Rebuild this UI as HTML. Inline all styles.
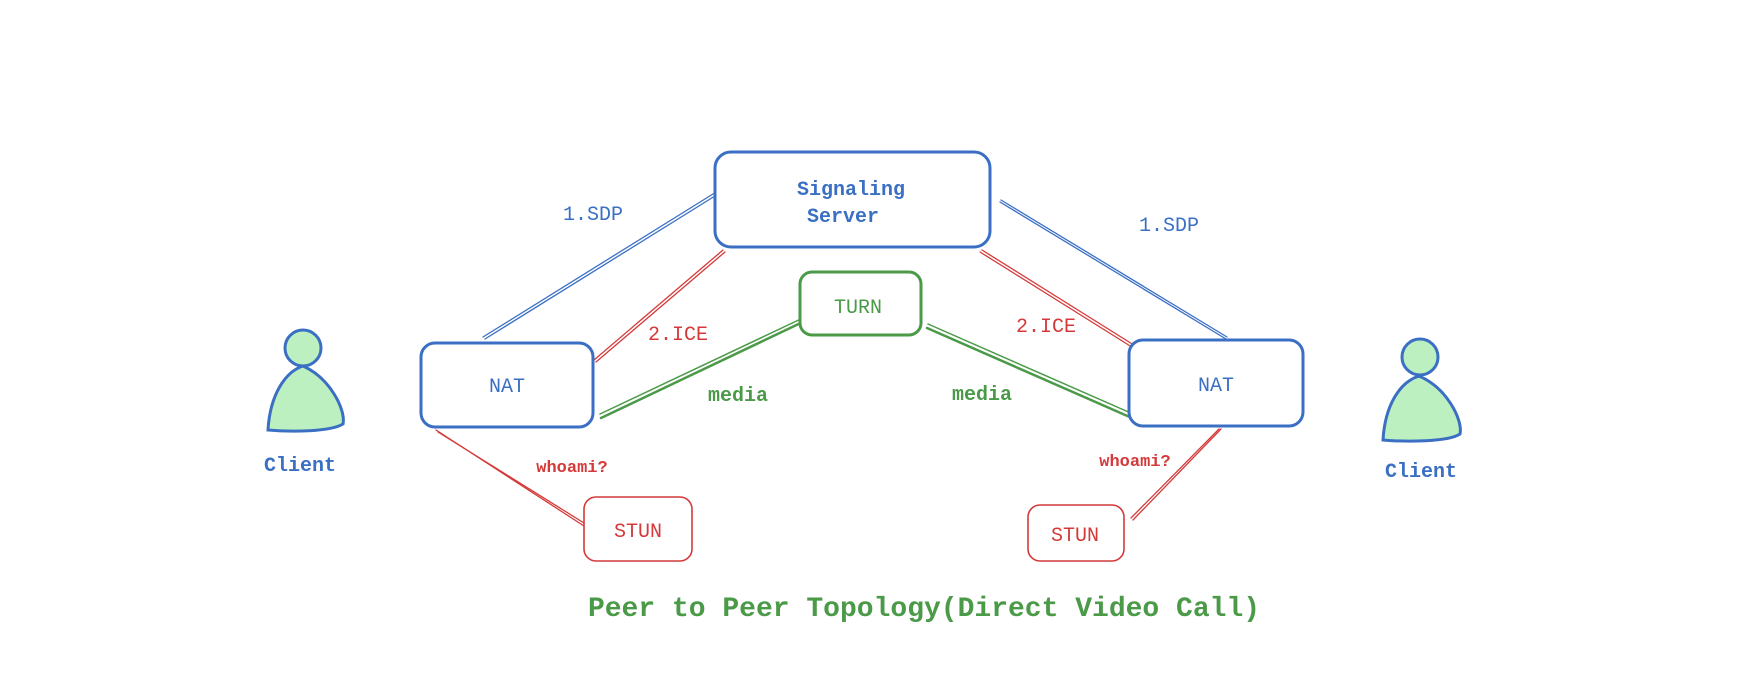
<!DOCTYPE html>
<html><head><meta charset="utf-8"><style>
html,body{margin:0;padding:0;background:#fff;}
svg text{font-family:"Liberation Mono","DejaVu Sans Mono",monospace;}
</style></head><body>
<svg width="1762" height="690" viewBox="0 0 1762 690" xmlns="http://www.w3.org/2000/svg">
<rect width="1762" height="690" fill="#fff"/>
<g fill="none" stroke-linecap="round">
<!-- SDP lines -->
<g stroke="#3a6fc4" stroke-width="1.3">
<line x1="483" y1="337" x2="721" y2="189"/><line x1="485" y1="339" x2="723" y2="191"/>
<line x1="1001" y1="200" x2="1227" y2="337"/><line x1="1000" y1="202" x2="1226" y2="339"/>
</g>
<!-- ICE / whoami -->
<g stroke="#d43a3a" stroke-width="1.3">
<line x1="596" y1="362" x2="725" y2="252"/><line x1="594" y1="360" x2="723" y2="250"/>
<line x1="980" y1="252" x2="1135" y2="349"/><line x1="982" y1="250" x2="1137" y2="347"/>
<line x1="436" y1="430" x2="584" y2="526"/><line x1="438" y1="432" x2="584" y2="523"/>
<line x1="1221" y1="429" x2="1133" y2="520"/><line x1="1219" y1="429" x2="1131" y2="518"/>
</g>
<!-- media -->
<g stroke="#4a9a48">
<line x1="601" y1="418" x2="807" y2="320" stroke-width="2.5"/><line x1="600" y1="414" x2="805" y2="317" stroke-width="1.5"/>
<line x1="927" y1="328" x2="1132" y2="418" stroke-width="2.5"/><line x1="928" y1="324" x2="1133" y2="414" stroke-width="1.5"/>
</g>
<!-- boxes -->
<rect x="715" y="152" width="275" height="95" rx="16" stroke="#3a6fc4" stroke-width="3" fill="#fff"/>
<rect x="800" y="272" width="121" height="63" rx="12" stroke="#4a9a48" stroke-width="3" fill="#fff"/>
<rect x="421" y="343" width="172" height="84" rx="14" stroke="#3a6fc4" stroke-width="3" fill="#fff"/>
<rect x="1129" y="340" width="174" height="86" rx="14" stroke="#3a6fc4" stroke-width="3" fill="#fff"/>
<rect x="584" y="497" width="108" height="64" rx="12" stroke="#d43a3a" stroke-width="1.6" fill="#fff"/>
<rect x="1028" y="505" width="96" height="56" rx="12" stroke="#d43a3a" stroke-width="1.6" fill="#fff"/>
<!-- persons -->
<g stroke="#3a6fc4" stroke-width="3" fill="#bdf0c0">
<path d="M303 366 C285 372 270 395 268 430 C290 432 330 432 343 424 C346 410 330 378 303 366 Z"/>
<circle cx="303" cy="348" r="18"/>
<path d="M1419 376 C1400 382 1385 405 1383 440 C1405 442 1448 442 1460 434 C1463 420 1447 388 1419 376 Z"/>
<circle cx="1420" cy="357" r="18"/>
</g>
</g>
<g font-size="20" text-anchor="middle" font-weight="bold">
<text x="851" y="195" fill="#3a6fc4">Signaling</text>
<text x="843" y="222" fill="#3a6fc4">Server</text>
<text x="858" y="313" fill="#4a9a48" font-weight="normal">TURN</text>
<text x="507" y="392" fill="#3a6fc4" font-weight="normal">NAT</text>
<text x="1216" y="391" fill="#3a6fc4" font-weight="normal">NAT</text>
<text x="638" y="537" fill="#d43a3a" font-weight="normal">STUN</text>
<text x="1075" y="541" fill="#d43a3a" font-weight="normal">STUN</text>
<text x="300" y="471" fill="#3a6fc4">Client</text>
<text x="1421" y="477" fill="#3a6fc4">Client</text>
<text x="593" y="220" fill="#3a6fc4" font-weight="normal">1.SDP</text>
<text x="1169" y="231" fill="#3a6fc4" font-weight="normal">1.SDP</text>
<text x="678" y="340" fill="#d43a3a" font-weight="normal">2.ICE</text>
<text x="1046" y="332" fill="#d43a3a" font-weight="normal">2.ICE</text>
<text x="738" y="401" fill="#4a9a48">media</text>
<text x="982" y="400" fill="#4a9a48">media</text>
<text x="572" y="472" fill="#d43a3a" font-size="17">whoami?</text>
<text x="1135" y="466" fill="#d43a3a" font-size="17">whoami?</text>
<text x="924" y="616" fill="#4a9a48" font-size="28">Peer to Peer Topology(Direct Video Call)</text>
</g>
</svg>
</body></html>
